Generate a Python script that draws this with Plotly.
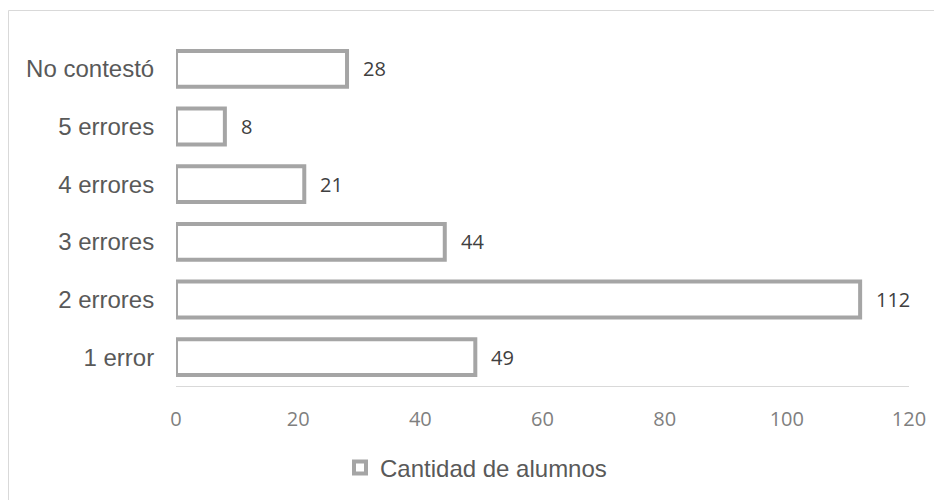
import plotly.graph_objects as go

categories = ["1 error", "2 errores", "3 errores", "4 errores", "5 errores", "No contestó"]
values = [49, 112, 44, 21, 8, 28]
series_name = "Cantidad de alumnos"
x_ticks = [0, 20, 40, 60, 80, 100, 120]

# page has 8px body margin; coordinates below are in figure space
W, H = 942, 500
L, R, T, B = 168, 41, 32, 122
pw, ph = W - L - R, H - T - B

fig = go.Figure()
fig.add_trace(go.Bar(
    y=categories, x=values, orientation="h", name=series_name,
    width=0.62,
    marker=dict(color="white", line=dict(color="#A5A5A5", width=4)),
    showlegend=True,
))

for c, v in zip(categories, values):
    fig.add_annotation(x=v, y=c, text=str(v), showarrow=False, xanchor="left",
                       xshift=14, font=dict(family="Open Sans", size=20, color="#404040"))

def px_x(p):
    return (p - L) / pw

def px_y(p):
    return (H - B - p) / ph

fig.add_shape(type="rect", xref="paper", yref="paper",
              x0=px_x(0.5), x1=px_x(960), y0=px_y(2.5), y1=px_y(520),
              line=dict(color="#D9D9D9", width=1), fillcolor="rgba(0,0,0,0)", layer="below")

fig.update_layout(
    width=W, height=H,
    margin=dict(l=L, r=R, t=T, b=B, pad=0),
    paper_bgcolor="white", plot_bgcolor="white",
    xaxis=dict(range=[0, 120], tickvals=x_ticks, showgrid=False, zeroline=False,
               showline=True, linecolor="#D9D9D9", linewidth=1,
               ticks="outside", ticklen=15, tickcolor="rgba(0,0,0,0)",
               tickfont=dict(family="Open Sans", size=20, color="#7F7F7F")),
    yaxis=dict(showgrid=False, zeroline=False, showline=False,
               ticks="outside", ticklen=16, tickcolor="rgba(0,0,0,0)",
               tickfont=dict(family="Liberation Sans", size=24, color="#595959")),
    legend=dict(orientation="h", x=px_x(332), xanchor="left", y=px_y(460), yanchor="middle",
                font=dict(family="Liberation Sans", size=24, color="#595959"),
                itemwidth=30, bgcolor="rgba(0,0,0,0)"),
)

fig.write_html("out.html")
